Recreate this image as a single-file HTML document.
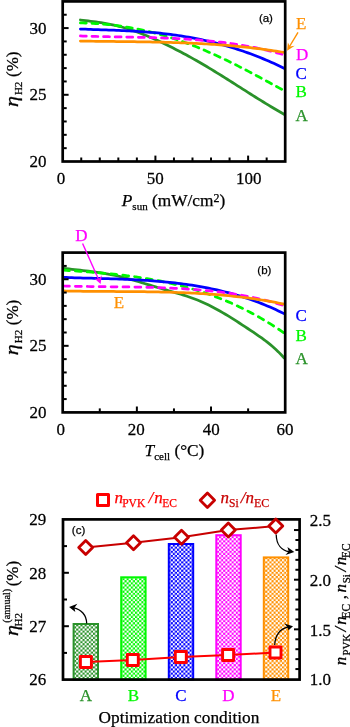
<!DOCTYPE html>
<html><head><meta charset="utf-8"><style>
html,body{margin:0;padding:0;background:#fff;}
body{width:350px;height:727px;overflow:hidden;}
svg{display:block;}
text{stroke:#000;stroke-width:0.25px;}
</style></head><body>
<svg width="350" height="727" viewBox="0 0 350 727">
<rect width="350" height="727" fill="#fff"/>
<path d="M80.40,19.99 L82.98,20.31 L85.55,20.63 L88.13,20.95 L90.71,21.28 L93.29,21.62 L95.86,21.97 L98.44,22.34 L101.02,22.73 L103.59,23.15 L106.17,23.59 L108.75,24.07 L111.33,24.57 L113.90,25.12 L116.48,25.71 L119.06,26.35 L121.64,27.03 L124.21,27.76 L126.79,28.53 L129.37,29.34 L131.94,30.20 L134.52,31.09 L137.10,32.02 L139.68,32.99 L142.25,33.99 L144.83,35.02 L147.41,36.09 L149.98,37.18 L152.56,38.30 L155.14,39.45 L157.72,40.62 L160.29,41.82 L162.87,43.03 L165.45,44.27 L168.03,45.53 L170.60,46.81 L173.18,48.10 L175.76,49.41 L178.33,50.74 L180.91,52.08 L183.49,53.45 L186.07,54.83 L188.64,56.23 L191.22,57.65 L193.80,59.08 L196.37,60.54 L198.95,62.01 L201.53,63.50 L204.11,65.01 L206.68,66.54 L209.26,68.09 L211.84,69.65 L214.42,71.22 L216.99,72.81 L219.57,74.40 L222.15,76.01 L224.72,77.63 L227.30,79.25 L229.88,80.88 L232.46,82.51 L235.03,84.15 L237.61,85.79 L240.19,87.43 L242.76,89.07 L245.34,90.71 L247.92,92.34 L250.50,93.97 L253.07,95.60 L255.65,97.22 L258.23,98.83 L260.81,100.43 L263.38,102.03 L265.96,103.61 L268.54,105.18 L271.11,106.73 L273.69,108.27 L276.27,109.79 L278.85,111.30 L281.42,112.78 L284.00,114.25" fill="none" stroke="#2a922a" stroke-width="2.75" stroke-linecap="round"/>
<path d="M80.40,22.92 L82.95,22.97 L85.49,23.04 L88.04,23.13 L90.59,23.24 L93.13,23.37 L95.68,23.52 L98.23,23.69 L100.77,23.89 L103.32,24.10 L105.87,24.34 L108.42,24.60 L110.96,24.87 L113.51,25.17 L116.06,25.49 L118.60,25.84 L121.15,26.20 L123.70,26.58 L126.24,26.99 L128.79,27.42 L131.34,27.87 L133.88,28.34 L136.43,28.83 L138.98,29.35 L141.52,29.88 L144.07,30.44 L146.62,31.02 L149.16,31.63 L151.71,32.25 L154.26,32.90 L156.81,33.57 L159.35,34.26 L161.90,34.97 L164.45,35.71 L166.99,36.47 L169.54,37.25 L172.09,38.05 L174.63,38.88 L177.18,39.73 L179.73,40.60 L182.27,41.50 L184.82,42.42 L187.37,43.36 L189.91,44.32 L192.46,45.31 L195.01,46.32 L197.55,47.34 L200.10,48.39 L202.65,49.45 L205.19,50.54 L207.74,51.64 L210.29,52.77 L212.84,53.90 L215.38,55.06 L217.93,56.23 L220.48,57.42 L223.02,58.62 L225.57,59.84 L228.12,61.07 L230.66,62.32 L233.21,63.58 L235.76,64.85 L238.30,66.14 L240.85,67.43 L243.40,68.74 L245.94,70.06 L248.49,71.39 L251.04,72.72 L253.58,74.07 L256.13,75.42 L258.68,76.79 L261.23,78.16 L263.77,79.53 L266.32,80.92 L268.87,82.31 L271.41,83.70 L273.96,85.10 L276.51,86.51 L279.05,87.91 L281.60,89.32" fill="none" stroke="#00f800" stroke-width="2.75" stroke-linecap="round" stroke-dasharray="5.9,5.683"/>
<path d="M80.40,29.02 L82.98,29.12 L85.55,29.22 L88.13,29.32 L90.71,29.41 L93.29,29.51 L95.86,29.60 L98.44,29.69 L101.02,29.78 L103.59,29.87 L106.17,29.96 L108.75,30.05 L111.33,30.14 L113.90,30.24 L116.48,30.34 L119.06,30.45 L121.64,30.56 L124.21,30.67 L126.79,30.80 L129.37,30.93 L131.94,31.06 L134.52,31.21 L137.10,31.36 L139.68,31.52 L142.25,31.69 L144.83,31.88 L147.41,32.07 L149.98,32.28 L152.56,32.50 L155.14,32.73 L157.72,32.98 L160.29,33.24 L162.87,33.51 L165.45,33.80 L168.03,34.11 L170.60,34.44 L173.18,34.78 L175.76,35.13 L178.33,35.51 L180.91,35.90 L183.49,36.31 L186.07,36.74 L188.64,37.19 L191.22,37.65 L193.80,38.13 L196.37,38.63 L198.95,39.15 L201.53,39.69 L204.11,40.25 L206.68,40.83 L209.26,41.43 L211.84,42.04 L214.42,42.68 L216.99,43.34 L219.57,44.02 L222.15,44.71 L224.72,45.43 L227.30,46.17 L229.88,46.94 L232.46,47.72 L235.03,48.52 L237.61,49.35 L240.19,50.20 L242.76,51.07 L245.34,51.97 L247.92,52.88 L250.50,53.82 L253.07,54.78 L255.65,55.77 L258.23,56.78 L260.81,57.81 L263.38,58.87 L265.96,59.95 L268.54,61.06 L271.11,62.19 L273.69,63.34 L276.27,64.52 L278.85,65.73 L281.42,66.96 L284.00,68.22" fill="none" stroke="#0000ff" stroke-width="2.75" stroke-linecap="round"/>
<path d="M80.40,35.97 L82.95,36.06 L85.50,36.15 L88.06,36.23 L90.61,36.30 L93.16,36.37 L95.71,36.44 L98.26,36.51 L100.82,36.57 L103.37,36.62 L105.92,36.68 L108.47,36.73 L111.02,36.78 L113.57,36.83 L116.13,36.88 L118.68,36.93 L121.23,36.98 L123.78,37.02 L126.33,37.07 L128.89,37.12 L131.44,37.17 L133.99,37.22 L136.54,37.27 L139.09,37.32 L141.65,37.38 L144.20,37.44 L146.75,37.50 L149.30,37.57 L151.85,37.63 L154.41,37.71 L156.96,37.78 L159.51,37.87 L162.06,37.95 L164.61,38.05 L167.16,38.15 L169.72,38.25 L172.27,38.36 L174.82,38.48 L177.37,38.60 L179.92,38.74 L182.48,38.88 L185.03,39.03 L187.58,39.19 L190.13,39.35 L192.68,39.53 L195.24,39.71 L197.79,39.91 L200.34,40.11 L202.89,40.33 L205.44,40.56 L207.99,40.80 L210.55,41.05 L213.10,41.31 L215.65,41.59 L218.20,41.87 L220.75,42.18 L223.31,42.49 L225.86,42.82 L228.41,43.16 L230.96,43.52 L233.51,43.89 L236.07,44.28 L238.62,44.68 L241.17,45.10 L243.72,45.53 L246.27,45.99 L248.83,46.45 L251.38,46.94 L253.93,47.44 L256.48,47.97 L259.03,48.51 L261.58,49.06 L264.14,49.64 L266.69,50.24 L269.24,50.86 L271.79,51.49 L274.34,52.15 L276.90,52.83 L279.45,53.53 L282.00,54.25" fill="none" stroke="#ff00ff" stroke-width="2.75" stroke-linecap="round" stroke-dasharray="5.9,5.696"/>
<path d="M80.40,41.06 L82.98,41.10 L85.55,41.14 L88.13,41.18 L90.71,41.21 L93.29,41.25 L95.86,41.28 L98.44,41.31 L101.02,41.34 L103.59,41.37 L106.17,41.40 L108.75,41.42 L111.33,41.45 L113.90,41.48 L116.48,41.51 L119.06,41.54 L121.64,41.56 L124.21,41.59 L126.79,41.62 L129.37,41.66 L131.94,41.69 L134.52,41.72 L137.10,41.76 L139.68,41.79 L142.25,41.83 L144.83,41.88 L147.41,41.92 L149.98,41.97 L152.56,42.01 L155.14,42.07 L157.72,42.12 L160.29,42.18 L162.87,42.24 L165.45,42.31 L168.03,42.38 L170.60,42.45 L173.18,42.53 L175.76,42.61 L178.33,42.69 L180.91,42.78 L183.49,42.88 L186.07,42.98 L188.64,43.09 L191.22,43.20 L193.80,43.32 L196.37,43.44 L198.95,43.57 L201.53,43.71 L204.11,43.85 L206.68,44.00 L209.26,44.15 L211.84,44.31 L214.42,44.48 L216.99,44.66 L219.57,44.84 L222.15,45.04 L224.72,45.24 L227.30,45.44 L229.88,45.66 L232.46,45.89 L235.03,46.12 L237.61,46.36 L240.19,46.61 L242.76,46.87 L245.34,47.14 L247.92,47.42 L250.50,47.71 L253.07,48.01 L255.65,48.32 L258.23,48.64 L260.81,48.97 L263.38,49.31 L265.96,49.66 L268.54,50.02 L271.11,50.40 L273.69,50.78 L276.27,51.18 L278.85,51.59 L281.42,52.01 L284.00,52.44" fill="none" stroke="#ff9000" stroke-width="2.75" stroke-linecap="round"/>
<line x1="62.7" y1="148.16" x2="66.70" y2="148.16" stroke="#000" stroke-width="2.0"/>
<line x1="62.7" y1="134.82" x2="66.70" y2="134.82" stroke="#000" stroke-width="2.0"/>
<line x1="62.7" y1="121.47" x2="66.70" y2="121.47" stroke="#000" stroke-width="2.0"/>
<line x1="62.7" y1="108.13" x2="66.70" y2="108.13" stroke="#000" stroke-width="2.0"/>
<line x1="62.7" y1="94.79" x2="68.60" y2="94.79" stroke="#000" stroke-width="2.0"/>
<line x1="62.7" y1="81.45" x2="66.70" y2="81.45" stroke="#000" stroke-width="2.0"/>
<line x1="62.7" y1="68.11" x2="66.70" y2="68.11" stroke="#000" stroke-width="2.0"/>
<line x1="62.7" y1="54.77" x2="66.70" y2="54.77" stroke="#000" stroke-width="2.0"/>
<line x1="62.7" y1="41.43" x2="66.70" y2="41.43" stroke="#000" stroke-width="2.0"/>
<line x1="62.7" y1="28.08" x2="68.60" y2="28.08" stroke="#000" stroke-width="2.0"/>
<line x1="62.7" y1="14.74" x2="66.70" y2="14.74" stroke="#000" stroke-width="2.0"/>
<line x1="81.24" y1="161.5" x2="81.24" y2="157.50" stroke="#000" stroke-width="2.0"/>
<line x1="99.78" y1="161.5" x2="99.78" y2="157.50" stroke="#000" stroke-width="2.0"/>
<line x1="118.33" y1="161.5" x2="118.33" y2="157.50" stroke="#000" stroke-width="2.0"/>
<line x1="136.87" y1="161.5" x2="136.87" y2="157.50" stroke="#000" stroke-width="2.0"/>
<line x1="173.95" y1="161.5" x2="173.95" y2="157.50" stroke="#000" stroke-width="2.0"/>
<line x1="192.49" y1="161.5" x2="192.49" y2="157.50" stroke="#000" stroke-width="2.0"/>
<line x1="211.03" y1="161.5" x2="211.03" y2="157.50" stroke="#000" stroke-width="2.0"/>
<line x1="229.57" y1="161.5" x2="229.57" y2="157.50" stroke="#000" stroke-width="2.0"/>
<line x1="266.66" y1="161.5" x2="266.66" y2="157.50" stroke="#000" stroke-width="2.0"/>
<line x1="155.41" y1="161.5" x2="155.41" y2="155.60" stroke="#000" stroke-width="2.0"/>
<line x1="248.12" y1="161.5" x2="248.12" y2="155.60" stroke="#000" stroke-width="2.0"/>
<rect x="62.7" y="1.4" width="222.50" height="160.10" fill="none" stroke="#000" stroke-width="2.7"/>
<text transform="translate(46.6,167.00) scale(1,1.04)" font-size="17" text-anchor="end" font-family="'Liberation Serif', 'Times New Roman', serif">20</text>
<text transform="translate(46.6,100.29) scale(1,1.04)" font-size="17" text-anchor="end" font-family="'Liberation Serif', 'Times New Roman', serif">25</text>
<text transform="translate(46.6,33.58) scale(1,1.04)" font-size="17" text-anchor="end" font-family="'Liberation Serif', 'Times New Roman', serif">30</text>
<text transform="translate(61.00,183.90) scale(1,1.04)" font-size="17" text-anchor="middle" font-family="'Liberation Serif', 'Times New Roman', serif">0</text>
<text transform="translate(155.20,183.90) scale(1,1.04)" font-size="17" text-anchor="middle" font-family="'Liberation Serif', 'Times New Roman', serif">50</text>
<text transform="translate(248.70,183.90) scale(1,1.04)" font-size="17" text-anchor="middle" font-family="'Liberation Serif', 'Times New Roman', serif">100</text>
<text x="258.9" y="22.3" font-size="11.5" text-anchor="start" font-family="'Liberation Sans', Arial, sans-serif" fill="#000" style="stroke:#000" >(a)</text>
<text x="296.0" y="29.1" font-size="17" text-anchor="start" font-family="'Liberation Serif', 'Times New Roman', serif" fill="#ff9000" style="stroke:#ff9000" >E</text>
<text x="296.0" y="60.2" font-size="17" text-anchor="start" font-family="'Liberation Serif', 'Times New Roman', serif" fill="#ff00ff" style="stroke:#ff00ff" >D</text>
<text x="295.6" y="78.5" font-size="17" text-anchor="start" font-family="'Liberation Serif', 'Times New Roman', serif" fill="#0000ff" style="stroke:#0000ff" >C</text>
<text x="295.6" y="96.6" font-size="17" text-anchor="start" font-family="'Liberation Serif', 'Times New Roman', serif" fill="#00f800" style="stroke:#00f800" >B</text>
<text x="295.4" y="120.6" font-size="17" text-anchor="start" font-family="'Liberation Serif', 'Times New Roman', serif" fill="#2a922a" style="stroke:#2a922a" >A</text>
<line x1="298" y1="32.3" x2="289.5" y2="46.5" stroke="#ff9000" stroke-width="1.4"/>
<polygon points="287.1,50.8 287.9,42.4 289.9,46.4 294.7,45.8" fill="#ff9000"/>
<text transform="translate(18.2,107.0) rotate(-90) scale(1.14,1)" font-family="'Liberation Serif', 'Times New Roman', serif" font-size="19.5" font-style="italic">η</text>
<text transform="translate(21.9,95.1) rotate(-90)" font-family="'Liberation Serif', 'Times New Roman', serif" font-size="11">H2</text>
<text transform="translate(18.2,77.0) rotate(-90)" font-family="'Liberation Serif', 'Times New Roman', serif" font-size="17">(%)</text>
<text x="121.8" y="206" font-size="17.3" font-family="'Liberation Serif', 'Times New Roman', serif"><tspan font-style="italic">P</tspan><tspan font-size="11" dy="3.9">sun</tspan><tspan dy="-3.9"> (mW/cm</tspan><tspan font-size="12" dy="-3.9">2</tspan><tspan dy="3.9">)</tspan></text>
<path d="M63.50,268.29 L66.29,268.64 L69.08,268.97 L71.87,269.30 L74.66,269.61 L77.46,269.92 L80.25,270.23 L83.04,270.54 L85.83,270.85 L88.62,271.18 L91.41,271.53 L94.20,271.89 L96.99,272.27 L99.78,272.68 L102.58,273.12 L105.37,273.59 L108.16,274.09 L110.95,274.62 L113.74,275.18 L116.53,275.78 L119.32,276.42 L122.11,277.09 L124.91,277.81 L127.70,278.55 L130.49,279.32 L133.28,280.12 L136.07,280.93 L138.86,281.77 L141.65,282.61 L144.44,283.46 L147.23,284.32 L150.03,285.18 L152.82,286.04 L155.61,286.89 L158.40,287.73 L161.19,288.55 L163.98,289.36 L166.77,290.16 L169.56,290.96 L172.35,291.76 L175.15,292.57 L177.94,293.39 L180.73,294.24 L183.52,295.11 L186.31,296.01 L189.10,296.95 L191.89,297.94 L194.68,298.98 L197.47,300.07 L200.27,301.22 L203.06,302.44 L205.85,303.72 L208.64,305.06 L211.43,306.46 L214.22,307.92 L217.01,309.43 L219.80,310.99 L222.59,312.60 L225.39,314.25 L228.18,315.93 L230.97,317.66 L233.76,319.41 L236.55,321.19 L239.34,323.00 L242.13,324.82 L244.92,326.65 L247.72,328.50 L250.51,330.35 L253.30,332.21 L256.09,334.09 L258.88,336.01 L261.67,337.98 L264.46,340.02 L267.25,342.16 L270.04,344.39 L272.84,346.75 L275.63,349.24 L278.42,351.89 L281.21,354.70 L284.00,357.71" fill="none" stroke="#2a922a" stroke-width="2.75" stroke-linecap="round"/>
<path d="M63.50,270.22 L66.28,270.39 L69.07,270.57 L71.85,270.75 L74.64,270.93 L77.42,271.12 L80.21,271.31 L82.99,271.51 L85.78,271.71 L88.56,271.92 L91.35,272.14 L94.13,272.36 L96.92,272.59 L99.70,272.83 L102.49,273.08 L105.27,273.34 L108.06,273.61 L110.84,273.88 L113.63,274.17 L116.41,274.47 L119.20,274.78 L121.98,275.11 L124.77,275.44 L127.55,275.79 L130.34,276.16 L133.12,276.53 L135.91,276.93 L138.69,277.34 L141.47,277.76 L144.26,278.20 L147.04,278.66 L149.83,279.13 L152.61,279.63 L155.40,280.14 L158.18,280.67 L160.97,281.22 L163.75,281.79 L166.54,282.38 L169.32,283.00 L172.11,283.63 L174.89,284.29 L177.68,284.96 L180.46,285.67 L183.25,286.39 L186.03,287.14 L188.82,287.91 L191.60,288.71 L194.39,289.54 L197.17,290.39 L199.96,291.27 L202.74,292.17 L205.53,293.11 L208.31,294.07 L211.09,295.06 L213.88,296.08 L216.66,297.13 L219.45,298.21 L222.23,299.32 L225.02,300.46 L227.80,301.63 L230.59,302.84 L233.37,304.08 L236.16,305.35 L238.94,306.66 L241.73,308.00 L244.51,309.37 L247.30,310.79 L250.08,312.23 L252.87,313.72 L255.65,315.24 L258.44,316.80 L261.22,318.39 L264.01,320.03 L266.79,321.70 L269.58,323.41 L272.36,325.17 L275.15,326.96 L277.93,328.80 L280.72,330.67 L283.50,332.59" fill="none" stroke="#00f800" stroke-width="2.75" stroke-linecap="round" stroke-dasharray="5.9,6.000"/>
<path d="M63.50,277.37 L66.29,277.48 L69.08,277.58 L71.87,277.67 L74.66,277.76 L77.46,277.85 L80.25,277.93 L83.04,278.01 L85.83,278.09 L88.62,278.17 L91.41,278.24 L94.20,278.32 L96.99,278.40 L99.78,278.47 L102.58,278.55 L105.37,278.63 L108.16,278.72 L110.95,278.81 L113.74,278.90 L116.53,278.99 L119.32,279.09 L122.11,279.19 L124.91,279.31 L127.70,279.42 L130.49,279.55 L133.28,279.68 L136.07,279.82 L138.86,279.97 L141.65,280.13 L144.44,280.29 L147.23,280.47 L150.03,280.66 L152.82,280.86 L155.61,281.08 L158.40,281.30 L161.19,281.54 L163.98,281.79 L166.77,282.06 L169.56,282.34 L172.35,282.64 L175.15,282.95 L177.94,283.28 L180.73,283.63 L183.52,283.99 L186.31,284.37 L189.10,284.78 L191.89,285.20 L194.68,285.64 L197.47,286.10 L200.27,286.58 L203.06,287.08 L205.85,287.61 L208.64,288.16 L211.43,288.73 L214.22,289.33 L217.01,289.95 L219.80,290.59 L222.59,291.26 L225.39,291.96 L228.18,292.68 L230.97,293.43 L233.76,294.21 L236.55,295.02 L239.34,295.86 L242.13,296.72 L244.92,297.62 L247.72,298.54 L250.51,299.50 L253.30,300.49 L256.09,301.51 L258.88,302.56 L261.67,303.65 L264.46,304.77 L267.25,305.92 L270.04,307.11 L272.84,308.34 L275.63,309.60 L278.42,310.90 L281.21,312.23 L284.00,313.61" fill="none" stroke="#0000ff" stroke-width="2.75" stroke-linecap="round"/>
<path d="M63.50,286.00 L66.27,286.08 L69.03,286.15 L71.80,286.21 L74.56,286.27 L77.33,286.32 L80.09,286.37 L82.86,286.42 L85.63,286.46 L88.39,286.50 L91.16,286.54 L93.92,286.57 L96.69,286.61 L99.46,286.64 L102.22,286.67 L104.99,286.70 L107.75,286.73 L110.52,286.76 L113.28,286.79 L116.05,286.82 L118.82,286.85 L121.58,286.88 L124.35,286.92 L127.11,286.95 L129.88,286.99 L132.65,287.04 L135.41,287.08 L138.18,287.13 L140.94,287.18 L143.71,287.24 L146.47,287.31 L149.24,287.37 L152.01,287.45 L154.77,287.53 L157.54,287.61 L160.30,287.70 L163.07,287.80 L165.84,287.91 L168.60,288.02 L171.37,288.15 L174.13,288.28 L176.90,288.42 L179.66,288.57 L182.43,288.72 L185.20,288.89 L187.96,289.07 L190.73,289.26 L193.49,289.46 L196.26,289.68 L199.03,289.90 L201.79,290.14 L204.56,290.39 L207.32,290.65 L210.09,290.92 L212.85,291.22 L215.62,291.52 L218.39,291.84 L221.15,292.18 L223.92,292.54 L226.68,292.91 L229.45,293.30 L232.22,293.71 L234.98,294.14 L237.75,294.59 L240.51,295.06 L243.28,295.55 L246.04,296.06 L248.81,296.60 L251.58,297.15 L254.34,297.74 L257.11,298.34 L259.87,298.97 L262.64,299.63 L265.41,300.31 L268.17,301.02 L270.94,301.76 L273.70,302.52 L276.47,303.31 L279.23,304.13 L282.00,304.98" fill="none" stroke="#ff00ff" stroke-width="2.75" stroke-linecap="round" stroke-dasharray="5.9,6.001"/>
<path d="M63.50,290.94 L66.29,291.00 L69.08,291.06 L71.87,291.11 L74.66,291.15 L77.46,291.19 L80.25,291.23 L83.04,291.26 L85.83,291.29 L88.62,291.32 L91.41,291.34 L94.20,291.37 L96.99,291.39 L99.78,291.41 L102.58,291.42 L105.37,291.44 L108.16,291.46 L110.95,291.47 L113.74,291.49 L116.53,291.50 L119.32,291.52 L122.11,291.54 L124.91,291.55 L127.70,291.57 L130.49,291.59 L133.28,291.62 L136.07,291.64 L138.86,291.67 L141.65,291.70 L144.44,291.73 L147.23,291.77 L150.03,291.81 L152.82,291.86 L155.61,291.91 L158.40,291.96 L161.19,292.02 L163.98,292.08 L166.77,292.15 L169.56,292.23 L172.35,292.31 L175.15,292.40 L177.94,292.50 L180.73,292.60 L183.52,292.71 L186.31,292.83 L189.10,292.95 L191.89,293.09 L194.68,293.23 L197.47,293.38 L200.27,293.54 L203.06,293.71 L205.85,293.89 L208.64,294.08 L211.43,294.28 L214.22,294.49 L217.01,294.71 L219.80,294.95 L222.59,295.19 L225.39,295.45 L228.18,295.72 L230.97,296.00 L233.76,296.29 L236.55,296.60 L239.34,296.92 L242.13,297.25 L244.92,297.60 L247.72,297.96 L250.51,298.34 L253.30,298.73 L256.09,299.14 L258.88,299.56 L261.67,300.00 L264.46,300.46 L267.25,300.93 L270.04,301.42 L272.84,301.92 L275.63,302.45 L278.42,302.99 L281.21,303.54 L284.00,304.12" fill="none" stroke="#ff9000" stroke-width="2.75" stroke-linecap="round"/>
<line x1="62.7" y1="399.08" x2="66.70" y2="399.08" stroke="#000" stroke-width="2.0"/>
<line x1="62.7" y1="385.77" x2="66.70" y2="385.77" stroke="#000" stroke-width="2.0"/>
<line x1="62.7" y1="372.45" x2="66.70" y2="372.45" stroke="#000" stroke-width="2.0"/>
<line x1="62.7" y1="359.13" x2="66.70" y2="359.13" stroke="#000" stroke-width="2.0"/>
<line x1="62.7" y1="345.82" x2="68.60" y2="345.82" stroke="#000" stroke-width="2.0"/>
<line x1="62.7" y1="332.50" x2="66.70" y2="332.50" stroke="#000" stroke-width="2.0"/>
<line x1="62.7" y1="319.18" x2="66.70" y2="319.18" stroke="#000" stroke-width="2.0"/>
<line x1="62.7" y1="305.87" x2="66.70" y2="305.87" stroke="#000" stroke-width="2.0"/>
<line x1="62.7" y1="292.55" x2="66.70" y2="292.55" stroke="#000" stroke-width="2.0"/>
<line x1="62.7" y1="279.23" x2="68.60" y2="279.23" stroke="#000" stroke-width="2.0"/>
<line x1="62.7" y1="265.92" x2="66.70" y2="265.92" stroke="#000" stroke-width="2.0"/>
<line x1="99.78" y1="412.4" x2="99.78" y2="408.40" stroke="#000" stroke-width="2.0"/>
<line x1="173.95" y1="412.4" x2="173.95" y2="408.40" stroke="#000" stroke-width="2.0"/>
<line x1="248.12" y1="412.4" x2="248.12" y2="408.40" stroke="#000" stroke-width="2.0"/>
<line x1="136.87" y1="412.4" x2="136.87" y2="406.50" stroke="#000" stroke-width="2.0"/>
<line x1="211.03" y1="412.4" x2="211.03" y2="406.50" stroke="#000" stroke-width="2.0"/>
<rect x="62.7" y="252.6" width="222.50" height="159.80" fill="none" stroke="#000" stroke-width="2.7"/>
<text transform="translate(46.6,417.90) scale(1,1.04)" font-size="17" text-anchor="end" font-family="'Liberation Serif', 'Times New Roman', serif">20</text>
<text transform="translate(46.6,351.32) scale(1,1.04)" font-size="17" text-anchor="end" font-family="'Liberation Serif', 'Times New Roman', serif">25</text>
<text transform="translate(46.6,284.73) scale(1,1.04)" font-size="17" text-anchor="end" font-family="'Liberation Serif', 'Times New Roman', serif">30</text>
<text transform="translate(60.70,434.80) scale(1,1.04)" font-size="17" text-anchor="middle" font-family="'Liberation Serif', 'Times New Roman', serif">0</text>
<text transform="translate(136.20,434.80) scale(1,1.04)" font-size="17" text-anchor="middle" font-family="'Liberation Serif', 'Times New Roman', serif">20</text>
<text transform="translate(211.20,434.80) scale(1,1.04)" font-size="17" text-anchor="middle" font-family="'Liberation Serif', 'Times New Roman', serif">40</text>
<text transform="translate(285.10,434.80) scale(1,1.04)" font-size="17" text-anchor="middle" font-family="'Liberation Serif', 'Times New Roman', serif">60</text>
<text x="257.3" y="273.8" font-size="11.5" text-anchor="start" font-family="'Liberation Sans', Arial, sans-serif" fill="#000" style="stroke:#000" >(b)</text>
<text x="295.6" y="321.3" font-size="17" text-anchor="start" font-family="'Liberation Serif', 'Times New Roman', serif" fill="#0000ff" style="stroke:#0000ff" >C</text>
<text x="295.6" y="341.2" font-size="17" text-anchor="start" font-family="'Liberation Serif', 'Times New Roman', serif" fill="#00f800" style="stroke:#00f800" >B</text>
<text x="295.4" y="363.6" font-size="17" text-anchor="start" font-family="'Liberation Serif', 'Times New Roman', serif" fill="#2a922a" style="stroke:#2a922a" >A</text>
<text x="75.2" y="240.8" font-size="17" text-anchor="start" font-family="'Liberation Serif', 'Times New Roman', serif" fill="#ff00ff" style="stroke:#ff00ff" >D</text>
<text x="113.8" y="307.7" font-size="17" text-anchor="start" font-family="'Liberation Serif', 'Times New Roman', serif" fill="#ff9000" style="stroke:#ff9000" >E</text>
<line x1="82.6" y1="243.5" x2="98.6" y2="279.5" stroke="#ff00ff" stroke-width="1.4"/>
<polygon points="100.6,283.9 94.4,278.4 98.5,279.2 101.8,275.2" fill="#ff00ff"/>
<text transform="translate(18.2,355.2) rotate(-90) scale(1.14,1)" font-family="'Liberation Serif', 'Times New Roman', serif" font-size="19.5" font-style="italic">η</text>
<text transform="translate(21.9,343.3) rotate(-90)" font-family="'Liberation Serif', 'Times New Roman', serif" font-size="11">H2</text>
<text transform="translate(18.2,325.2) rotate(-90)" font-family="'Liberation Serif', 'Times New Roman', serif" font-size="17">(%)</text>
<text x="144.6" y="456.2" font-size="17.3" font-family="'Liberation Serif', 'Times New Roman', serif"><tspan font-style="italic">T</tspan><tspan font-size="11" dy="3.9">cell</tspan><tspan dy="-3.9"> (°C)</tspan></text>
<defs>
<pattern id="pA" width="4.2" height="4.2" patternUnits="userSpaceOnUse" x="0.6" y="0.6"><rect width="4.2" height="4.2" fill="#2a922a"/><rect x="0" y="0" width="2.1" height="2.1" fill="#fff"/><rect x="2.1" y="2.1" width="2.1" height="2.1" fill="#fff"/></pattern>
<pattern id="pB" width="4.2" height="4.2" patternUnits="userSpaceOnUse" x="0.6" y="0.6"><rect width="4.2" height="4.2" fill="#00f800"/><rect x="0" y="0" width="2.1" height="2.1" fill="#fff"/><rect x="2.1" y="2.1" width="2.1" height="2.1" fill="#fff"/></pattern>
<pattern id="pC" width="4.2" height="4.2" patternUnits="userSpaceOnUse" x="0.6" y="0.6"><rect width="4.2" height="4.2" fill="#0000ff"/><rect x="0" y="0" width="2.1" height="2.1" fill="#fff"/><rect x="2.1" y="2.1" width="2.1" height="2.1" fill="#fff"/></pattern>
<pattern id="pD" width="4.2" height="4.2" patternUnits="userSpaceOnUse" x="0.6" y="0.6"><rect width="4.2" height="4.2" fill="#ff00ff"/><rect x="0" y="0" width="2.1" height="2.1" fill="#fff"/><rect x="2.1" y="2.1" width="2.1" height="2.1" fill="#fff"/></pattern>
<pattern id="pE" width="4.2" height="4.2" patternUnits="userSpaceOnUse" x="0.6" y="0.6"><rect width="4.2" height="4.2" fill="#ff9000"/><rect x="0" y="0" width="2.1" height="2.1" fill="#fff"/><rect x="2.1" y="2.1" width="2.1" height="2.1" fill="#fff"/></pattern>
</defs>
<rect x="73.60" y="624.00" width="24.4" height="55.60" fill="url(#pA)" stroke="#2a922a" stroke-width="2"/>
<rect x="121.20" y="577.30" width="24.4" height="102.30" fill="url(#pB)" stroke="#00f800" stroke-width="2"/>
<rect x="168.80" y="544.00" width="24.4" height="135.60" fill="url(#pC)" stroke="#0000ff" stroke-width="2"/>
<rect x="216.30" y="535.20" width="24.4" height="144.40" fill="url(#pD)" stroke="#ff00ff" stroke-width="2"/>
<rect x="263.80" y="557.40" width="24.4" height="122.20" fill="url(#pE)" stroke="#ff9000" stroke-width="2"/>
<line x1="63.0" y1="652.90" x2="67.00" y2="652.90" stroke="#000" stroke-width="2.0"/>
<line x1="63.0" y1="626.20" x2="68.90" y2="626.20" stroke="#000" stroke-width="2.0"/>
<line x1="63.0" y1="599.50" x2="67.00" y2="599.50" stroke="#000" stroke-width="2.0"/>
<line x1="63.0" y1="572.80" x2="68.90" y2="572.80" stroke="#000" stroke-width="2.0"/>
<line x1="63.0" y1="546.10" x2="67.00" y2="546.10" stroke="#000" stroke-width="2.0"/>
<line x1="299.6" y1="669.07" x2="295.40" y2="669.07" stroke="#000" stroke-width="2.0"/>
<line x1="299.6" y1="659.14" x2="295.40" y2="659.14" stroke="#000" stroke-width="2.0"/>
<line x1="299.6" y1="649.21" x2="295.40" y2="649.21" stroke="#000" stroke-width="2.0"/>
<line x1="299.6" y1="639.28" x2="295.40" y2="639.28" stroke="#000" stroke-width="2.0"/>
<line x1="299.6" y1="629.35" x2="294.00" y2="629.35" stroke="#000" stroke-width="2.0"/>
<line x1="299.6" y1="619.42" x2="295.40" y2="619.42" stroke="#000" stroke-width="2.0"/>
<line x1="299.6" y1="609.49" x2="295.40" y2="609.49" stroke="#000" stroke-width="2.0"/>
<line x1="299.6" y1="599.56" x2="295.40" y2="599.56" stroke="#000" stroke-width="2.0"/>
<line x1="299.6" y1="589.63" x2="295.40" y2="589.63" stroke="#000" stroke-width="2.0"/>
<line x1="299.6" y1="579.70" x2="294.00" y2="579.70" stroke="#000" stroke-width="2.0"/>
<line x1="299.6" y1="569.77" x2="295.40" y2="569.77" stroke="#000" stroke-width="2.0"/>
<line x1="299.6" y1="559.84" x2="295.40" y2="559.84" stroke="#000" stroke-width="2.0"/>
<line x1="299.6" y1="549.91" x2="295.40" y2="549.91" stroke="#000" stroke-width="2.0"/>
<line x1="299.6" y1="539.98" x2="295.40" y2="539.98" stroke="#000" stroke-width="2.0"/>
<line x1="299.6" y1="530.05" x2="294.00" y2="530.05" stroke="#000" stroke-width="2.0"/>
<rect x="63.0" y="519.4" width="236.60" height="160.20" fill="none" stroke="#000" stroke-width="2.7"/>
<polyline points="85.7,547.5 133.5,542.8 181.5,537.2 228.3,530.0 275.8,526.1" fill="none" stroke="#c80000" stroke-width="2"/>
<polygon points="85.7,540.5 92.7,547.5 85.7,554.5 78.7,547.5" fill="#fff" stroke="#c80000" stroke-width="2.8" stroke-linejoin="round"/>
<polygon points="133.5,535.8 140.5,542.8 133.5,549.8 126.5,542.8" fill="#fff" stroke="#c80000" stroke-width="2.8" stroke-linejoin="round"/>
<polygon points="181.5,530.2 188.5,537.2 181.5,544.2 174.5,537.2" fill="#fff" stroke="#c80000" stroke-width="2.8" stroke-linejoin="round"/>
<polygon points="228.3,523.0 235.3,530.0 228.3,537.0 221.3,530.0" fill="#fff" stroke="#c80000" stroke-width="2.8" stroke-linejoin="round"/>
<polygon points="275.8,519.1 282.8,526.1 275.8,533.1 268.8,526.1" fill="#fff" stroke="#c80000" stroke-width="2.8" stroke-linejoin="round"/>
<polyline points="85.9,662.0 132.8,660.0 180.8,657.0 228.1,655.0 275.5,652.5" fill="none" stroke="#ff0000" stroke-width="2"/>
<rect x="80.4" y="656.5" width="11.0" height="11.0" fill="#fff" stroke="#ff0000" stroke-width="2.9" stroke-linejoin="round"/>
<rect x="127.30000000000001" y="654.5" width="11.0" height="11.0" fill="#fff" stroke="#ff0000" stroke-width="2.9" stroke-linejoin="round"/>
<rect x="175.3" y="651.5" width="11.0" height="11.0" fill="#fff" stroke="#ff0000" stroke-width="2.9" stroke-linejoin="round"/>
<rect x="222.6" y="649.5" width="11.0" height="11.0" fill="#fff" stroke="#ff0000" stroke-width="2.9" stroke-linejoin="round"/>
<rect x="270.0" y="647.0" width="11.0" height="11.0" fill="#fff" stroke="#ff0000" stroke-width="2.9" stroke-linejoin="round"/>
<path d="M86.7,623.5 C86.6,615 81,609.2 73.8,607.8" fill="none" stroke="#000" stroke-width="1.3"/>
<polygon points="69.1,607.1 77.4,603.7 74.4,607.7 75.3,611.9" fill="#000"/>
<path d="M276.2,534.5 C276.4,545 282,550.6 289.2,551.7" fill="none" stroke="#000" stroke-width="1.3"/>
<polygon points="294.3,552.1 287.4,546.9 288.7,551.3 285.5,555.1" fill="#000"/>
<path d="M274.7,645 C275.3,634 281,628.6 288.3,626.9" fill="none" stroke="#000" stroke-width="1.3"/>
<polygon points="293.0,626.2 284.2,623.6 287.4,627.1 288.5,630.2" fill="#000"/>
<text x="71.8" y="534.4" font-size="11.5" text-anchor="start" font-family="'Liberation Sans', Arial, sans-serif" fill="#000" style="stroke:#000" >(c)</text>
<text transform="translate(46.3,525.3) scale(1,1.04)" font-size="17" text-anchor="end" font-family="'Liberation Serif', 'Times New Roman', serif">29</text>
<text transform="translate(46.3,578.7) scale(1,1.04)" font-size="17" text-anchor="end" font-family="'Liberation Serif', 'Times New Roman', serif">28</text>
<text transform="translate(46.3,631.9) scale(1,1.04)" font-size="17" text-anchor="end" font-family="'Liberation Serif', 'Times New Roman', serif">27</text>
<text transform="translate(46.3,684.8) scale(1,1.04)" font-size="17" text-anchor="end" font-family="'Liberation Serif', 'Times New Roman', serif">26</text>
<text transform="translate(309.8,525.8) scale(1,1.04)" font-size="17" text-anchor="start" font-family="'Liberation Serif', 'Times New Roman', serif">2.5</text>
<text transform="translate(309.8,585.8) scale(1,1.04)" font-size="17" text-anchor="start" font-family="'Liberation Serif', 'Times New Roman', serif">2.0</text>
<text transform="translate(309.8,635.8) scale(1,1.04)" font-size="17" text-anchor="start" font-family="'Liberation Serif', 'Times New Roman', serif">1.5</text>
<text transform="translate(309.8,685.2) scale(1,1.04)" font-size="17" text-anchor="start" font-family="'Liberation Serif', 'Times New Roman', serif">1.0</text>
<text x="85.80" y="700.8" font-size="17" text-anchor="middle" font-family="'Liberation Serif', 'Times New Roman', serif" fill="#2a922a" style="stroke:#2a922a" >A</text>
<text x="133.40" y="700.8" font-size="17" text-anchor="middle" font-family="'Liberation Serif', 'Times New Roman', serif" fill="#00f800" style="stroke:#00f800" >B</text>
<text x="181.00" y="700.8" font-size="17" text-anchor="middle" font-family="'Liberation Serif', 'Times New Roman', serif" fill="#0000ff" style="stroke:#0000ff" >C</text>
<text x="228.50" y="700.8" font-size="17" text-anchor="middle" font-family="'Liberation Serif', 'Times New Roman', serif" fill="#ff00ff" style="stroke:#ff00ff" >D</text>
<text x="276.00" y="700.8" font-size="17" text-anchor="middle" font-family="'Liberation Serif', 'Times New Roman', serif" fill="#ff9000" style="stroke:#ff9000" >E</text>
<text x="98.6" y="723.2" font-size="17.3" text-anchor="start" font-family="'Liberation Serif', 'Times New Roman', serif" fill="#000" style="stroke:#000" >Optimization condition</text>
<rect x="97.5" y="494.5" width="11" height="11" fill="#fff" stroke="#ff0000" stroke-width="3" stroke-linejoin="round"/>
<text x="114.5" y="503" font-size="17" font-family="'Liberation Serif', 'Times New Roman', serif" fill="#ff0000" style="stroke:#ff0000" font-style="italic">n</text>
<text x="122.2" y="507.4" font-size="11.5" font-family="'Liberation Serif', 'Times New Roman', serif" fill="#ff0000" style="stroke:#ff0000">PVK</text>
<text x="148.6" y="503" font-size="17" font-family="'Liberation Serif', 'Times New Roman', serif" fill="#ff0000" style="stroke:#ff0000" font-style="italic">/</text>
<text x="154.3" y="503" font-size="17" font-family="'Liberation Serif', 'Times New Roman', serif" fill="#ff0000" style="stroke:#ff0000" font-style="italic">n</text>
<text x="162.2" y="507.4" font-size="11.5" font-family="'Liberation Serif', 'Times New Roman', serif" fill="#ff0000" style="stroke:#ff0000">EC</text>
<polygon points="207.4,493.0 214.6,500.2 207.4,507.4 200.2,500.2" fill="#fff" stroke="#c80000" stroke-width="2.8" stroke-linejoin="round"/>
<text x="220.6" y="503" font-size="17" font-family="'Liberation Serif', 'Times New Roman', serif" fill="#c80000" style="stroke:#c80000" font-style="italic">n</text>
<text x="229.0" y="507.4" font-size="11.5" font-family="'Liberation Serif', 'Times New Roman', serif" fill="#c80000" style="stroke:#c80000">Si</text>
<text x="240.8" y="503" font-size="17" font-family="'Liberation Serif', 'Times New Roman', serif" fill="#c80000" style="stroke:#c80000" font-style="italic">/</text>
<text x="245.6" y="503" font-size="17" font-family="'Liberation Serif', 'Times New Roman', serif" fill="#c80000" style="stroke:#c80000" font-style="italic">n</text>
<text x="254.0" y="507.4" font-size="12" font-family="'Liberation Serif', 'Times New Roman', serif" fill="#c80000" style="stroke:#c80000">EC</text>
<text transform="translate(18.0,636.0) rotate(-90) scale(1.14,1)" font-family="'Liberation Serif', 'Times New Roman', serif" font-size="19.5" font-style="italic">η</text>
<text transform="translate(21.7,626.5) rotate(-90)" font-family="'Liberation Serif', 'Times New Roman', serif" font-size="11">H2</text>
<text transform="translate(9.8,622.7) rotate(-90)" font-family="'Liberation Serif', 'Times New Roman', serif" font-size="10.2">(annual)</text>
<text transform="translate(18.0,586.3) rotate(-90)" font-family="'Liberation Serif', 'Times New Roman', serif" font-size="17">(%)</text>
<text transform="translate(346.0,665.2) rotate(-90)" font-size="17" font-family="'Liberation Serif', 'Times New Roman', serif" fill="#000" style="stroke:#000" font-style="italic">n</text>
<text transform="translate(349.5,655.5) rotate(-90)" font-size="10.8" font-family="'Liberation Serif', 'Times New Roman', serif" fill="#000" style="stroke:#000">PVK</text>
<text transform="translate(346.0,631.4) rotate(-90)" font-size="17" font-family="'Liberation Serif', 'Times New Roman', serif" fill="#000" style="stroke:#000" font-style="italic">/</text>
<text transform="translate(346.0,624.8) rotate(-90)" font-size="17" font-family="'Liberation Serif', 'Times New Roman', serif" fill="#000" style="stroke:#000" font-style="italic">n</text>
<text transform="translate(349.5,618.6) rotate(-90)" font-size="11.5" font-family="'Liberation Serif', 'Times New Roman', serif" fill="#000" style="stroke:#000">EC</text>
<text transform="translate(346.0,599.3) rotate(-90)" font-size="17" font-family="'Liberation Serif', 'Times New Roman', serif" fill="#000" style="stroke:#000">,</text>
<text transform="translate(346.0,592.5) rotate(-90)" font-size="17" font-family="'Liberation Serif', 'Times New Roman', serif" fill="#000" style="stroke:#000" font-style="italic">n</text>
<text transform="translate(349.5,583.3) rotate(-90)" font-size="11" font-family="'Liberation Serif', 'Times New Roman', serif" fill="#000" style="stroke:#000">Si</text>
<text transform="translate(346.0,571.4) rotate(-90)" font-size="17" font-family="'Liberation Serif', 'Times New Roman', serif" fill="#000" style="stroke:#000" font-style="italic">/</text>
<text transform="translate(346.0,565.2) rotate(-90)" font-size="17" font-family="'Liberation Serif', 'Times New Roman', serif" fill="#000" style="stroke:#000" font-style="italic">n</text>
<text transform="translate(349.5,558.0) rotate(-90)" font-size="11.5" font-family="'Liberation Serif', 'Times New Roman', serif" fill="#000" style="stroke:#000">EC</text>
</svg>
</body></html>
